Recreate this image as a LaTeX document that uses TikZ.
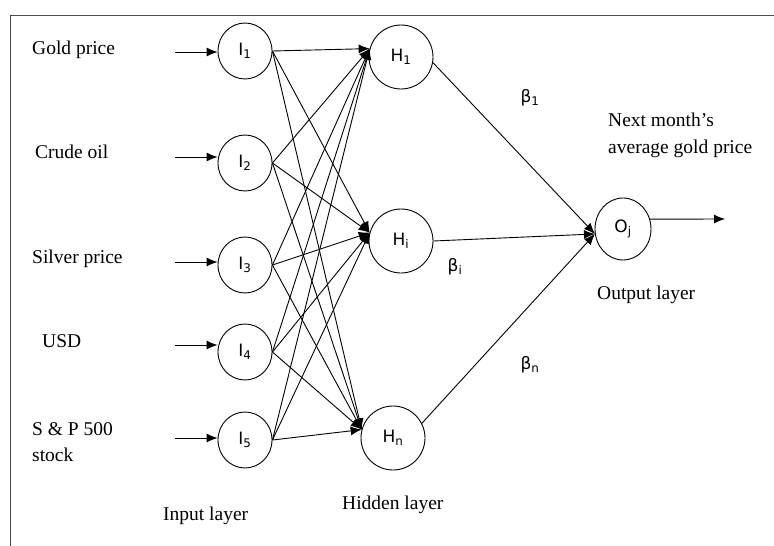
\documentclass[tikz,border=0pt]{standalone}
\usepackage{fontspec}
\setmainfont{Liberation Serif}
\newfontfamily\nodefont{DejaVu Sans}
\usetikzlibrary{shapes.geometric,arrows.meta}
\begin{document}
\begin{tikzpicture}[x=1pt,y=-1pt,
  neuron/.style={draw,ellipse,line width=0.9pt,inner sep=0pt,font=\nodefont\fontsize{17}{19}\selectfont},
  inneuron/.style={neuron,minimum width=54pt,minimum height=56pt},
  hidneuron/.style={neuron,minimum width=64pt,minimum height=64pt},
  outneuron/.style={neuron,minimum width=56pt,minimum height=62pt},
  arr/.style={line width=0.9pt,-{Latex[length=11pt,width=9pt]}},
  lbl/.style={anchor=base west,inner sep=0pt,font=\fontsize{19.5}{26}\selectfont},
  betalbl/.style={inner sep=0pt,font=\nodefont\fontsize{17}{19}\selectfont},
  frame/.style={line width=0.9pt,draw=black!70}
]
\useasboundingbox (0,0) rectangle (774,546);
\draw[frame] (10,546) -- (10,15) -- (774,15);

% input neurons
\node[inneuron] (I1) at (245,51) {I\textsubscript{1}};
\node[inneuron] (I2) at (245,163) {I\textsubscript{2}};
\node[inneuron] (I3) at (245,265) {I\textsubscript{3}};
\node[inneuron] (I4) at (245,352) {I\textsubscript{4}};
\node[inneuron] (I5) at (245,440) {I\textsubscript{5}};

% hidden neurons
\node[hidneuron] (H1) at (401,57) {H\textsubscript{1}};
\node[hidneuron] (Hi) at (401,241) {H\textsubscript{i}};
\node[hidneuron] (Hn) at (393,438) {H\textsubscript{n}};

% output neuron
\node[outneuron] (O) at (623,229) {O\textsubscript{j}};

% input labels
\node[lbl] (l1) at (32,54) {Gold price};
\node[lbl] (l2) at (35,158) {Crude oil};
\node[lbl] (l3) at (32,263) {Silver price};
\node[lbl] (l4) at (42,347) {USD};
\node[lbl] (l5) at (32,435) {S \& P 500};
\node[lbl] (l5b) at (32,461) {stock};

% layer labels
\node[lbl] (inl) at (163,520) {Input layer};
\node[lbl] (hidl) at (342,509) {Hidden layer};
\node[lbl] (outl) at (597,299) {Output layer};
\node[lbl] (nx1) at (608,126) {Next month's};
\node[lbl] (nx2) at (608,153) {average gold price};

% betas
\node[betalbl] (b1) at (530,98) {β\textsubscript{1}};
\node[betalbl] (bi) at (455,267) {β\textsubscript{i}};
\node[betalbl] (bn) at (530,365) {β\textsubscript{n}};

% input arrows
\coordinate (in1) at (175,52);
\coordinate (in2) at (175,157);
\coordinate (in3) at (175,262);
\coordinate (in4) at (175,345);
\coordinate (in5) at (175,438);
\draw[arr] (in1) -- (in1 -| I1.west);
\draw[arr] (in2) -- (in2 -| I2.west);
\draw[arr] (in3) -- (in3 -| I3.west);
\draw[arr] (in4) -- (in4 -| I4.west);
\draw[arr] (in5) -- (in5 -| I5.west);

% input to hidden
\foreach \i in {I1,I2,I3,I4,I5}{
  \foreach \h in {H1,Hi,Hn}{
    \draw[arr] (\i.east) -- (\h.165);
  }
}

% hidden to output
\draw[arr] (H1.-10) -- (O.190);
\draw[arr] (Hi.east) -- (O.190);
\draw[arr] (Hn.27) -- (O.190);

% output arrow
\coordinate (out) at (725,219);
\draw[arr] (O.20) -- (out);
\end{tikzpicture}
\end{document}
